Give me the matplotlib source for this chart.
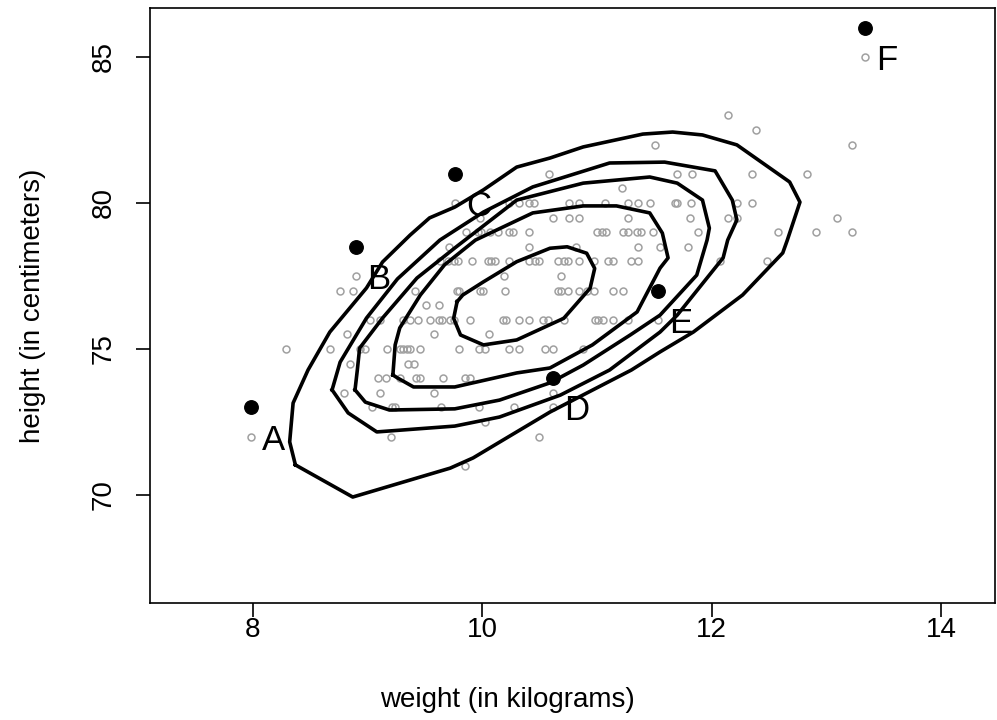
import matplotlib
matplotlib.use("Agg")
import matplotlib.pyplot as plt

plt.rcParams['font.family'] = ['Liberation Sans', 'DejaVu Sans']

weight = [12.14,
          12.39,
          11.51, 13.22,
          10.58, 11.70, 11.83, 12.35, 12.83,
          11.22,
          10.23, 10.32, 10.41, 10.45, 10.76, 10.84, 11.07, 11.27, 11.36, 11.46, 11.68, 11.70, 11.82, 12.22, 12.35,
          9.98, 10.62, 10.76, 10.84, 11.27, 11.81, 12.14, 12.22, 13.09,
          9.86, 9.96, 9.99, 10.07, 10.14, 10.23, 10.27, 10.41, 11.00, 11.04, 11.08, 11.23, 11.27, 11.35, 11.38, 11.49, 11.88, 12.58, 12.91, 13.22,
          9.71, 10.41, 10.82, 11.36, 11.55, 11.79,
          9.63, 9.70, 9.75, 9.79, 9.91, 10.05, 10.08, 10.11, 10.23, 10.41, 10.46, 10.49, 10.66, 10.71, 10.75, 10.84, 10.97, 11.10, 11.14, 11.30, 11.36, 12.07, 12.48,
          10.19, 10.69,
          8.76, 8.87, 9.41, 9.78, 9.80, 9.98, 10.01, 10.20, 10.66, 10.69, 10.75, 10.84, 10.91, 10.97, 11.14, 11.23,
          9.51, 9.62,
          9.02, 9.11, 9.31, 9.37, 9.44, 9.54, 9.62, 9.65, 9.72, 9.75, 9.89, 10.18, 10.21, 10.32, 10.41, 10.53, 10.57, 10.71, 10.98, 11.01, 11.05, 11.14, 11.27,
          8.82, 9.58, 10.06,
          8.29, 8.67, 8.93, 8.98, 9.17, 9.28, 9.31, 9.34, 9.37, 9.46, 9.80, 9.97, 10.02, 10.23, 10.32, 10.55, 10.62, 10.88,
          8.85, 9.35, 9.40,
          9.09, 9.16, 9.28, 9.42, 9.46, 9.66, 9.85, 9.89,
          8.79, 9.11, 9.58, 10.62,
          9.04, 9.21, 9.24, 9.64, 9.97, 10.28,
          10.02,
          9.20, 10.49,
          9.85]
height = [83] * 1 + [82.5] * 1 + [82] * 2 + [81] * 5 + [80.5] * 1 + [80] * 15 + \
         [79.5] * 9 + [79] * 20 + [78.5] * 6 + [78] * 23 + [77.5] * 2 + [77] * 16 + \
         [76.5] * 2 + [76] * 23 + [75.5] * 3 + [75] * 18 + [74.5] * 3 + [74] * 8 + \
         [73.5] * 4 + [73] * 6 + [72.5] * 1 + [72] * 2 + [71] * 1

# the six labelled children: grey = measured, black = one cm higher
names = ['A', 'B', 'C', 'D', 'E', 'F']
name_weight = [7.98, 8.90, 9.76, 10.62, 11.53, 13.34]
name_height = [72, 77.5, 80, 73, 76, 85]
name_height_up = [73, 78.5, 81, 74, 77, 86]

# density contours, outermost first
c1_w = [8.37, 8.32, 8.35, 8.48, 8.67, 8.99, 9.13, 9.37, 9.54, 9.76, 10.01, 10.30, 10.59, 10.88, 11.40, 11.66,
        11.92, 12.22, 12.68, 12.77, 12.66, 12.62, 12.27, 11.84, 11.55, 11.30, 10.59, 10.18, 9.92, 9.72, 8.87]
c1_h = [71.03, 71.82, 73.15, 74.28, 75.58, 77.09, 77.98, 78.90, 79.49, 79.86, 80.45, 81.23, 81.54, 81.92, 82.36, 82.43,
        82.33, 81.99, 80.72, 80.03, 78.73, 78.29, 76.85, 75.58, 74.90, 74.28, 72.84, 71.88, 71.27, 70.92, 69.93]
c2_w = [8.69, 8.76, 8.99, 9.26, 9.63, 10.01, 10.44, 11.11, 11.59, 12.03, 12.18, 12.22, 12.14, 12.10, 11.70,
        11.55, 11.11, 10.68, 10.15, 9.76, 9.08, 8.83]
c2_h = [73.60, 74.55, 76.06, 77.40, 78.73, 79.69, 80.55, 81.37, 81.40, 81.10, 80.10, 79.42, 78.73, 78.12, 76.16,
        75.58, 74.28, 73.42, 72.67, 72.36, 72.16, 72.81]
c3_w = [8.89, 8.91, 8.93, 9.13, 9.43, 9.76, 10.30, 10.88, 11.46, 11.70, 11.92, 11.98, 11.96, 11.87, 11.55,
        11.29, 10.88, 10.59, 10.15, 9.76, 9.19, 8.98]
c3_h = [73.60, 74.28, 75.03, 76.06, 77.43, 78.46, 80.10, 80.68, 80.89, 80.68, 80.10, 79.14, 78.73, 77.53, 76.16,
        75.48, 74.45, 73.84, 73.25, 72.95, 72.91, 73.18]
c4_w = [9.22, 9.24, 9.28, 9.46, 9.67, 9.94, 10.44, 10.88, 11.17, 11.46, 11.57, 11.62, 11.55, 11.35, 10.96,
        10.59, 10.30, 9.76, 9.40, 9.26]
c4_h = [74.11, 75.14, 75.72, 76.85, 77.88, 78.73, 79.66, 79.90, 79.90, 79.66, 78.97, 78.12, 77.77, 76.27, 75.14,
        74.35, 74.18, 73.70, 73.70, 74.01]
c5_w = [9.78, 9.75, 9.81, 10.01, 10.30, 10.71, 10.94, 10.98, 10.91, 10.74, 10.59, 10.30, 10.01, 9.83]
c5_h = [76.62, 76.05, 75.48, 75.14, 75.31, 76.05, 77.08, 77.76, 78.28, 78.50, 78.45, 77.99, 77.30, 76.85]

fig = plt.figure(figsize=(9.97, 7.2), dpi=100)
ax = fig.add_axes([150 / 997, 1 - 603 / 720, 845 / 997, 595 / 720])

ax.plot(weight, height, 'o', ms=5, mfc='none', mec='#a0a0a0', mew=1.1, zorder=2)
ax.plot(name_weight, name_height, 'o', ms=5, mfc='none', mec='#a0a0a0', mew=1.1, zorder=2)

for cw, ch in [(c1_w, c1_h), (c2_w, c2_h), (c3_w, c3_h), (c4_w, c4_h), (c5_w, c5_h)]:
    ax.plot(cw + cw[:1], ch + ch[:1], color='black', lw=2.6, solid_joinstyle='round', zorder=3)

ax.plot(name_weight, name_height_up, 'o', ms=9.7, color='black', zorder=4)
for n, w, h in zip(names, name_weight, name_height):
    ax.annotate(n, (w, h), xytext=(8, 0), textcoords='offset points',
                ha='left', va='center_baseline', fontsize=25, zorder=5)

ax.set_xlim(7.102, 14.471)
ax.set_ylim(66.301, 86.678)
ax.set_xticks([8, 10, 12, 14])
ax.set_yticks([70, 75, 80, 85])
ax.set_yticklabels(['70', '75', '80', '85'], rotation=90, va='center')
ax.tick_params(labelsize=20, length=10, width=1.2, pad=0)
ax.tick_params(axis='y', pad=14)
for s in ax.spines.values():
    s.set_linewidth(1.2)

ax.set_xlabel("weight (in kilograms)", fontsize=20)
ax.set_ylabel("height (in centimeters)", fontsize=20)
ax.xaxis.set_label_coords((507 - 150) / 845, -(700 - 603) / 595)
ax.xaxis.label.set_va('center')
ax.yaxis.set_label_coords((33 - 150) / 845, 0.5)
ax.yaxis.label.set_va('center')

plt.savefig('out.png', dpi=100)
